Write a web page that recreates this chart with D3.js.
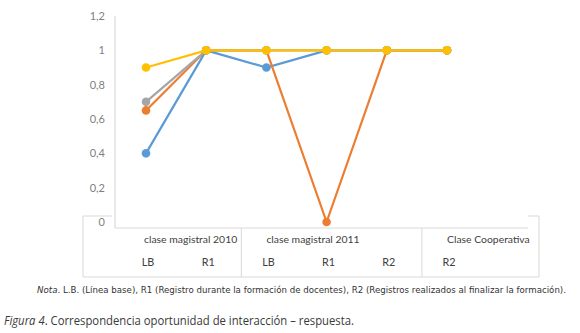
<!DOCTYPE html>
<html>
<head>
<meta charset="utf-8">
<script src="https://cdn.jsdelivr.net/npm/d3@7"></script>
<style>
  body { margin: 0; background: #fff; }
  svg { display: block; }
</style>
</head>
<body>
<div id="chart"></div>
<script>
// categories (first level) and their groups (second level)
const categories = ["LB-2010", "R1-2010", "LB-2011", "R1-2011", "R2-2011", "R2-coop"];
const catLabels = ["LB", "R1", "LB", "R1", "R2", "R2"];
const groups = [
    {name: "clase magistral 2010", first: 0, last: 1, anchor: "end"},
    {name: "clase magistral 2011", first: 2, last: 4, anchor: "start"},
    {name: "Clase Cooperativa", first: 5, last: 5, anchor: "start"}
];
const yTicks = [0, 0.2, 0.4, 0.6, 0.8, 1, 1.2];

// series values, drawn in this order (last on top)
const blueVals = [0.4, 1, 0.9, 1, 1, 1];
const orangeVals = [0.65, 1, 1, 0, 1, 1];
const grayVals = [0.7, 1, 1, 1, 1, 1];
const yellowVals = [0.9, 1, 1, 1, 1, 1];

const series = [
    {name: "s1", color: "#5b9bd5", values: blueVals},
    {name: "s2", color: "#ed7d31", values: orangeVals},
    {name: "s3", color: "#a5a5a5", values: grayVals},
    {name: "s4", color: "#ffc000", values: yellowVals}
];

const width = 580, height = 333;
const svg = d3.select("#chart").append("svg")
    .attr("width", width)
    .attr("height", height);

const axisLeft = 115, axisRight = 528, axisBottom = 228;
const labelFont = "Lato, 'Open Sans', sans-serif";

let x = d3.scalePoint()
    .domain(categories)
    .range([146, 447]);

let y = d3.scaleLinear()
    .domain([0, 1.2])
    .range([222, 16]);

// outer box of the category table
const box = svg.append("g").attr("stroke", "#d9d9d9").attr("fill", "none");
box.append("path").attr("d", `M${axisLeft - 3},216 H83 V277 H539 V216 H${axisRight}`);

// y axis
svg.append("line")
    .attr("x1", axisLeft).attr("x2", axisLeft)
    .attr("y1", y(1.2)).attr("y2", axisBottom)
    .attr("stroke", "#d9d9d9").attr("stroke-width", 1.2);

svg.append("g").selectAll("text")
    .data(yTicks)
    .enter().append("text")
    .attr("x", 105)
    .attr("y", d => y(d))
    .attr("dy", "0.35em")
    .attr("text-anchor", "end")
    .attr("fill", "#7f7f7f")
    .style("font-family", labelFont)
    .style("font-size", "11px")
    .text(d => d3.format(".1~f")(d).replace(".", ","));

// x axis
svg.append("line")
    .attr("x1", axisLeft).attr("x2", axisRight)
    .attr("y1", axisBottom).attr("y2", axisBottom)
    .attr("stroke", "#d9d9d9").attr("stroke-width", 1.2);

// separators between groups
const sepX = d => (x(categories[d.last]) + x(categories[d.last + 1])) / 2 + 5;
svg.append("g").selectAll("line")
    .data(groups.slice(0, -1))
    .enter().append("line")
    .attr("x1", sepX)
    .attr("x2", sepX)
    .attr("y1", axisBottom)
    .attr("y2", 277)
    .attr("stroke", "#d9d9d9");

// group labels
svg.append("g").selectAll("text")
    .data(groups)
    .enter().append("text")
    .attr("x", d => d.anchor === "end" ? x(categories[d.last]) + 31 : x(categories[d.first]))
    .attr("y", 239)
    .attr("dy", "0.35em")
    .attr("text-anchor", d => d.anchor)
    .attr("fill", "#404040")
    .style("font-family", labelFont)
    .style("font-size", "10.4px")
    .text(d => d.name);

// category labels
svg.append("g").selectAll("text")
    .data(categories)
    .enter().append("text")
    .attr("x", d => x(d) + 2)
    .attr("y", 262)
    .attr("dy", "0.35em")
    .attr("text-anchor", "middle")
    .attr("fill", "#404040")
    .style("font-family", labelFont)
    .style("font-size", "10.8px")
    .text((d, i) => catLabels[i]);

// lines and markers
const line = d3.line()
    .x((d, i) => x(categories[i]))
    .y(d => y(d));

series.forEach(s => {
    const g = svg.append("g").attr("class", "series " + s.name);
    g.append("path")
        .datum(s.values)
        .attr("d", line)
        .attr("fill", "none")
        .attr("stroke", s.color)
        .attr("stroke-width", 2.2);
    g.selectAll("circle")
        .data(s.values)
        .enter().append("circle")
        .attr("cx", (d, i) => x(categories[i]))
        .attr("cy", d => y(d))
        .attr("r", 4.3)
        .attr("fill", s.color);
});

// note and caption
const note = svg.append("text")
    .attr("x", 37)
    .attr("y", 293)
    .attr("fill", "#333")
    .style("font-family", "'DejaVu Sans', sans-serif")
    .style("font-size", "8.6px")
    .attr("textLength", 529)
    .attr("lengthAdjust", "spacingAndGlyphs");
note.append("tspan").style("font-style", "italic").text("Nota");
note.append("tspan").text(". L.B. (Línea base), R1 (Registro durante la formación de docentes), R2 (Registros realizados al finalizar la formación).");

const cap = svg.append("text")
    .attr("x", 4)
    .attr("y", 325)
    .attr("fill", "#3a3a3a")
    .style("font-family", "'Open Sans', sans-serif")
    .style("font-size", "12.5px")
    .attr("textLength", 350)
    .attr("lengthAdjust", "spacingAndGlyphs");
cap.append("tspan").style("font-style", "italic").text("Figura 4");
cap.append("tspan").text(". Correspondencia oportunidad de interacción – respuesta.");
</script>
</body>
</html>
